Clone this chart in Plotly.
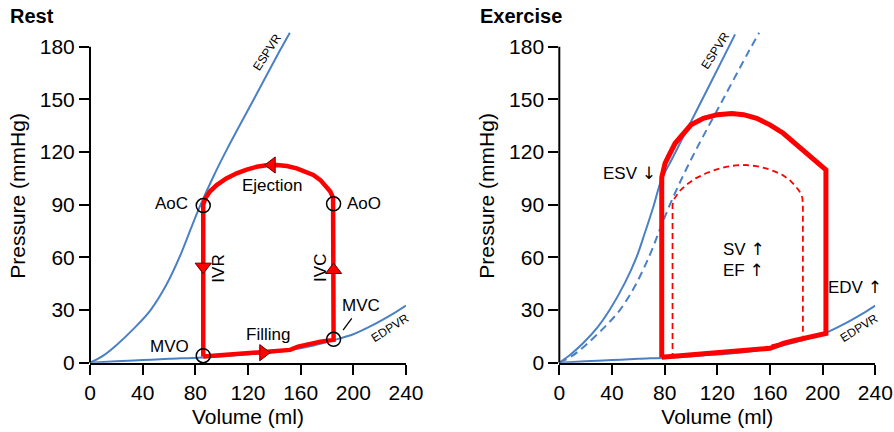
import plotly.graph_objects as go

# ---------------- data ----------------
# Rest ESPVR (also dashed reference in exercise panel)
espvr_rest_v = [0, 10, 20, 34, 46, 58, 69, 77, 84, 94, 104, 124, 144, 151.8]
espvr_rest_p = [0, 4, 10, 20, 30, 44.4, 61.9, 77.1, 90, 106.5, 121.5, 149.5, 177.5, 188]

# Exercise ESPVR (shifted, steeper)
espvr_ex_v = [0, 9, 17.8, 29.3, 38.2, 49.7, 58.6, 65, 71.5, 77.5, 86, 100, 115, 133.5]
espvr_ex_p = [0, 5, 10.9, 20.4, 30, 45.3, 60, 74, 89, 104, 116.6, 137.3, 159.5, 187]

# EDPVR (shared)
edpvr_v = [0, 20, 40, 60, 85, 110, 130, 150, 170, 185, 200, 215, 230, 240]
edpvr_p = [0, 0.8, 1.5, 2.2, 3.0, 4.2, 5.3, 7.0, 9.8, 12.8, 16.2, 21.5, 27.8, 32.5]

# Rest PV loop
rest_fill_v = [86, 100, 115, 130, 145, 152, 158, 165, 175, 185]
rest_fill_p = [3.5, 4.3, 5.0, 5.8, 6.7, 7.3, 9.2, 10.6, 12.0, 13.0]
rest_eject_v = [185, 184.6, 182.5, 179.7, 175, 169.6, 163.5, 157, 149.5, 141.8, 134,
                126.6, 119, 111.4, 103.5, 96.2, 91, 87.6, 86, 86]
rest_eject_p = [90, 94, 97.5, 100.3, 104, 106.9, 109, 110.7, 112, 112.6, 112.4,
                111.6, 110, 107.9, 105, 101.2, 97.5, 93.6, 90, 3.5]

# Exercise PV loop
ex_fill_v = [77.8, 100, 120, 140, 160, 165, 170, 178, 185, 202.5]
ex_fill_p = [3.1, 4.3, 5.5, 6.8, 8.2, 9.5, 11.0, 12.6, 13.9, 16.7]
ex_eject_v = [202.5, 193, 185.3, 178, 170.1, 160, 149.9, 140, 130.9, 120, 109.4,
              100, 94.2, 88, 84.1, 80.3, 77.8, 77.8]
ex_eject_p = [109.8, 116, 121.2, 126, 130.7, 135.5, 139.2, 141.3, 142, 141.3, 139.2,
              135.5, 130.7, 125, 119.3, 113.5, 105.4, 3.1]

# Event points (rest)
event_v = [86, 185, 86, 185]
event_p = [89.5, 90.5, 4.0, 13.3]

# Direction arrows on rest loop
arrow_v = [86, 185, 138, 131.6]
arrow_p = [54.7, 52.8, 112.6, 5.7]
arrow_symbols = ["triangle-down", "triangle-up", "triangle-left", "triangle-right"]

x_ticks = [0, 40, 80, 120, 160, 200, 240]
y_ticks = [0, 30, 60, 90, 120, 150, 180]

# ---------------- style ----------------
BLUE = "#4a80c4"
RED = "#ff0000"
FONT = "Liberation Sans, Arial, sans-serif"
ARROW = '<span style="font-family:DejaVu Sans">%s</span>'

fig = go.Figure()

# Left panel (Rest)
fig.add_trace(go.Scatter(x=espvr_rest_v, y=espvr_rest_p, mode="lines",
                         line=dict(color=BLUE, width=2, shape="spline", smoothing=1),
                         xaxis="x", yaxis="y", showlegend=False))
fig.add_trace(go.Scatter(x=edpvr_v, y=edpvr_p, mode="lines",
                         line=dict(color=BLUE, width=2, shape="spline", smoothing=1),
                         xaxis="x", yaxis="y", showlegend=False))
fig.add_trace(go.Scatter(x=rest_fill_v + rest_eject_v, y=rest_fill_p + rest_eject_p, mode="lines",
                         line=dict(color=RED, width=4.5),
                         xaxis="x", yaxis="y", showlegend=False))
fig.add_trace(go.Scatter(x=arrow_v, y=arrow_p, mode="markers",
                         marker=dict(symbol=arrow_symbols, size=14, color=RED,
                                     line=dict(color="#600000", width=1)),
                         xaxis="x", yaxis="y", showlegend=False, cliponaxis=False))
fig.add_trace(go.Scatter(x=event_v, y=event_p, mode="markers",
                         marker=dict(symbol="circle-open", size=14, color="black",
                                     line=dict(color="black", width=1.5)),
                         xaxis="x", yaxis="y", showlegend=False, cliponaxis=False))
# leader line for MVC label
fig.add_trace(go.Scatter(x=[192.2, 198.8], y=[18.6, 25.3], mode="lines",
                         line=dict(color="black", width=1.3),
                         xaxis="x", yaxis="y", showlegend=False))

# Right panel (Exercise)
fig.add_trace(go.Scatter(x=espvr_rest_v, y=espvr_rest_p, mode="lines",
                         line=dict(color=BLUE, width=2, dash="8px,5px", shape="spline", smoothing=1),
                         xaxis="x2", yaxis="y2", showlegend=False))
fig.add_trace(go.Scatter(x=espvr_ex_v, y=espvr_ex_p, mode="lines",
                         line=dict(color=BLUE, width=2, shape="spline", smoothing=1),
                         xaxis="x2", yaxis="y2", showlegend=False))
fig.add_trace(go.Scatter(x=edpvr_v, y=edpvr_p, mode="lines",
                         line=dict(color=BLUE, width=2, shape="spline", smoothing=1),
                         xaxis="x2", yaxis="y2", showlegend=False))
fig.add_trace(go.Scatter(x=rest_fill_v + rest_eject_v, y=rest_fill_p + rest_eject_p, mode="lines",
                         line=dict(color=RED, width=1.8, dash="6px,4px"),
                         xaxis="x2", yaxis="y2", showlegend=False))
fig.add_trace(go.Scatter(x=ex_fill_v + ex_eject_v, y=ex_fill_p + ex_eject_p, mode="lines",
                         line=dict(color=RED, width=5),
                         xaxis="x2", yaxis="y2", showlegend=False))

# ---------------- axes ----------------
y_dom = [0.16042, 0.93255]
axis_common = dict(showgrid=False, zeroline=False, ticks="outside", ticklen=10, tickwidth=2,
                   tickcolor="black", automargin=False,
                   tickfont=dict(family=FONT, size=21, color="black"))
title_font = dict(family=FONT, size=21, color="black")

fig.update_layout(
    width=894, height=432,
    margin=dict(l=0, r=0, t=0, b=0),
    paper_bgcolor="white", plot_bgcolor="white",
    font=dict(family=FONT, color="black"),
    xaxis=dict(domain=[0.10067, 0.45414], range=[0, 240], tickvals=x_ticks,
               showline=True, linecolor="black", linewidth=2, anchor="y",
               title=dict(text="Volume (ml)", font=title_font, standoff=6),
               **axis_common),
    yaxis=dict(domain=y_dom, range=[0, 190], tickvals=y_ticks, showline=False, anchor="x",
               title=dict(text="Pressure (mmHg)", font=title_font, standoff=8),
               **axis_common),
    xaxis2=dict(domain=[0.62562, 0.97908], range=[0, 240], tickvals=x_ticks,
                showline=True, linecolor="black", linewidth=2, anchor="y2",
                title=dict(text="Volume (ml)", font=title_font, standoff=6),
                **axis_common),
    yaxis2=dict(domain=y_dom, range=[0, 190], tickvals=y_ticks, showline=False, anchor="x2",
                title=dict(text="Pressure (mmHg)", font=title_font, standoff=8),
                **axis_common),
)

# y axis lines stopping at 180
for xr, yr in (("x domain", "y"), ("x2 domain", "y2")):
    fig.add_shape(type="line", xref=xr, yref=yr, x0=0, x1=0, y0=0, y1=180,
                  line=dict(color="black", width=2), layer="above")

# ---------------- annotations ----------------
def txt(x, y, s, xref="x", yref="y", size=17, xanchor="center", angle=0, bold=False):
    fig.add_annotation(x=x, y=y, xref=xref, yref=yref, text=("<b>%s</b>" % s) if bold else s,
                       showarrow=False, xanchor=xanchor, yanchor="middle", textangle=angle,
                       font=dict(family=FONT, size=size, color="black"))

txt(0.009, 0.963, "Rest", xref="paper", yref="paper", size=20, xanchor="left", bold=True)
txt(0.535, 0.963, "Exercise", xref="paper", yref="paper", size=20, xanchor="left", bold=True)

txt(76, 90.4, "AoC", xanchor="right")
txt(193.5, 90.8, "AoO", xanchor="left")
txt(77, 9.3, "MVO", xanchor="right")
txt(205.8, 32.3, "MVC")
txt(137.9, 101.2, "Ejection")
txt(135.5, 16.3, "Filling")
txt(97.5, 53.8, "IVR", angle=-90)
txt(175.2, 53.8, "IVC", angle=-90)
txt(134.8, 176.7, "ESPVR", size=12, angle=-57)
txt(227.8, 20, "EDPVR", size=12, angle=-32)

txt(53.5, 107.8, "ESV " + ARROW % "↓", xref="x2", yref="y2")
txt(140.1, 65, "SV " + ARROW % "↑", xref="x2", yref="y2")
txt(140.1, 52.7, "EF " + ARROW % "↑", xref="x2", yref="y2")
txt(224.6, 43.3, "EDV " + ARROW % "↑", xref="x2", yref="y2")
txt(118.3, 177.6, "ESPVR", xref="x2", yref="y2", size=12, angle=-57)
txt(227.6, 20, "EDPVR", xref="x2", yref="y2", size=12, angle=-32)

fig.write_html("out.html")
